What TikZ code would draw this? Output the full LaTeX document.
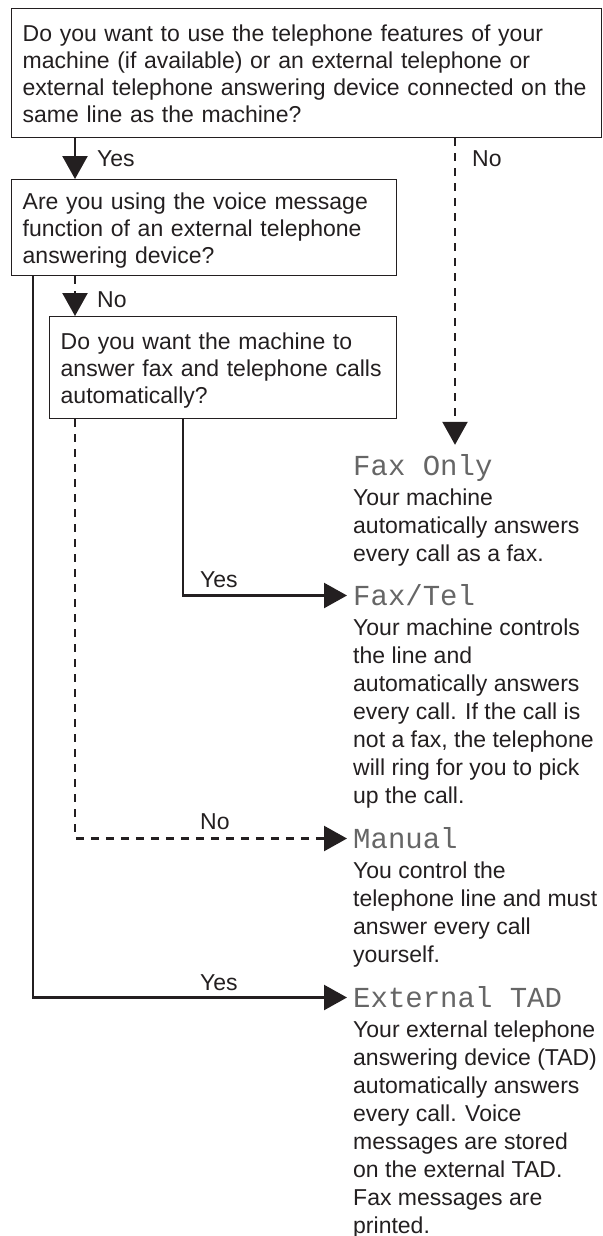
\documentclass[tikz,border=0pt]{standalone}
\usepackage{fontspec}
\setmainfont{Liberation Sans}
\newfontfamily\lcdfont{Liberation Mono}
\usetikzlibrary{arrows.meta}
\definecolor{ink}{HTML}{231F20}
% fixed first-line height and last-line depth inside the question boxes
\newcommand{\qtop}{\rule{0pt}{22pt}}
\newcommand{\qbot}{\rule[-5pt]{0pt}{5pt}}

\begin{document}
\begin{tikzpicture}[x=1pt,y=-1pt,>={Triangle[length=23pt,width=25pt]},
  every node/.style={text=ink},
  txt/.style={font=\fontsize{23}{28}\selectfont},
  question/.style={font=\fontsize{23}{27}\selectfont,draw=ink,line width=1.4pt,align=left,inner xsep=11pt,inner ysep=0pt,anchor=north west},
  mode/.style={font=\lcdfont\fontsize{29}{30}\selectfont,text=black!60,anchor=base west,inner xsep=6pt,inner ysep=11pt,text height=19pt,text depth=0pt},
  note/.style={txt,align=left,anchor=north west,inner xsep=6pt,inner ysep=2pt},
  lbl/.style={txt,anchor=west,inner sep=0pt},
  link/.style={->,draw=ink,line width=2.4pt},
  dlink/.style={link,dash pattern=on 8pt off 7pt}]

\useasboundingbox (0,0) rectangle (602,1236);

%%%%%%%%%%%%%%%%%%%%%%%%%%%%%%%%%%%%%%

\node[question,text width=568pt,minimum height=129pt] (q1) at (11,8) {\qtop Do you want to use the telephone features of your\\machine (if available) or an external telephone or\\external telephone answering device connected on the\\same line as the machine?\qbot};
\node[question,text width=363pt,minimum height=96pt] (q2) at (11,179) {\qtop Are you using the voice message\\function of an external telephone\\answering device?\qbot};
\node[question,text width=325pt,minimum height=102pt] (q3) at (49,316) {\qtop Do you want the machine to\\answer fax and telephone calls\\automatically?\qbot};

\coordinate (colB) at (33,0);
\coordinate (colA) at (75,0);
\coordinate (colC) at (183,0);
\coordinate (colD) at (455,0);

%%%%%%%%%%%%%%%%%%%%%%%%%%%%%%%%%%%%%%

\node[mode] (fo) at (347,475) {Fax Only};
\node[note] (fod) at (fo.south west) {Your machine\\automatically answers\\every call as a fax.};

\node[mode] (ft) at (347,605) {Fax/Tel};
\node[note] (ftd) at (ft.south west) {Your machine controls\\the line and\\automatically answers\\every call. If the call is\\not a fax, the telephone\\will ring for you to pick\\up the call.};

\node[mode] (mn) at (347,848) {Manual};
\node[note] (mnd) at (mn.south west) {You control the\\telephone line and must\\answer every call\\yourself.};

\node[mode] (tad) at (347,1007) {External TAD};
\node[note] (tadd) at (tad.south west) {Your external telephone\\answering device (TAD)\\automatically answers\\every call. Voice\\messages are stored\\on the external TAD.\\Fax messages are\\printed.};

%%%%%%%%%%%%%%%%%%%%%%%%%%%%%%%%%%%%%%

\draw[link] (q1.south -| colA) -- (q2.north -| colA);
\draw[dlink] (q1.south -| colD) -- (fo.north -| colD);
\draw[dlink] (q2.south -| colA) -- (q3.north -| colA);
\draw[link] (q2.south -| colB) |- (tad.west);
\draw[link] (q3.south -| colC) |- (ft.west);
\draw[dlink] (q3.south -| colA) |- (mn.west);

\node[lbl] (yes1) at (97,159) {Yes};
\node[lbl] (no1) at (472,159) {No};
\node[lbl] (no2) at (97,300) {No};
\node[lbl] (yes2) at (200,580) {Yes};
\node[lbl] (no3) at (200,822) {No};
\node[lbl] (yes3) at (200,983) {Yes};

\end{tikzpicture}
\end{document}
